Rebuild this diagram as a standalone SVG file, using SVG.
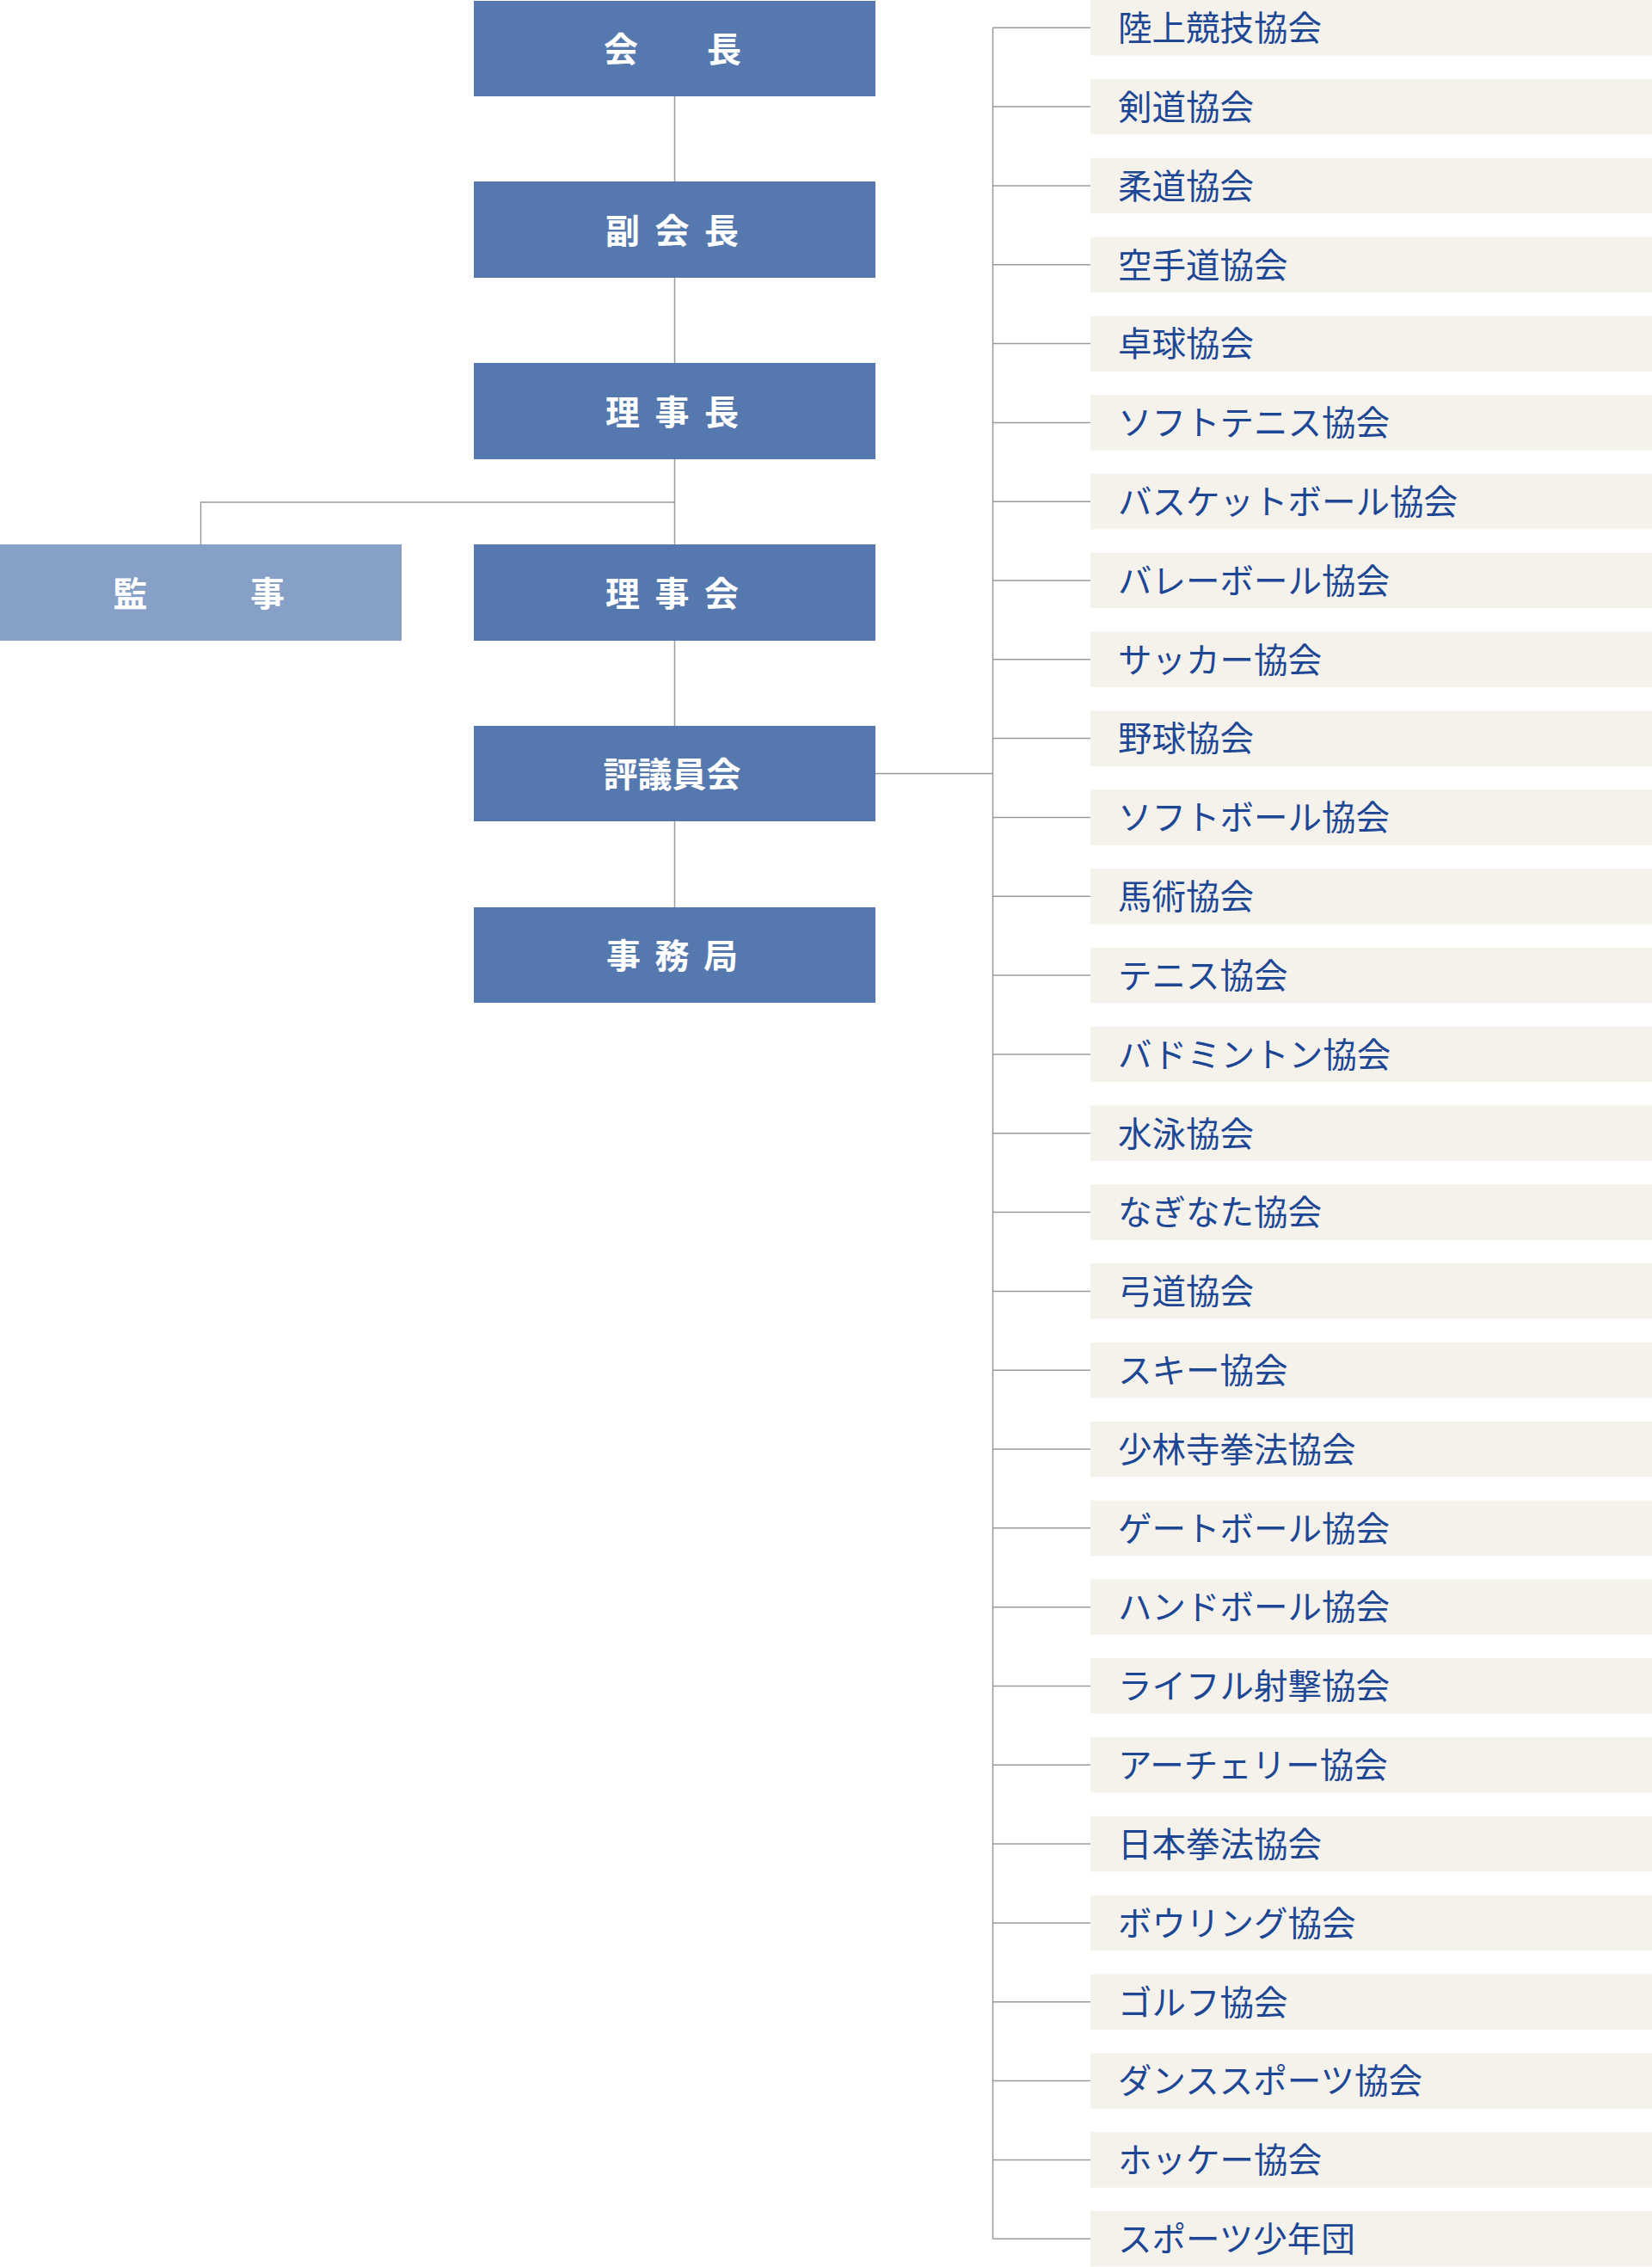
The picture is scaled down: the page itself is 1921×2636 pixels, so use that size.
<svg xmlns="http://www.w3.org/2000/svg" width="1921" height="2636" viewBox="0 0 1921 2636">
<style>
.bg{fill:#ffffff}
.main{fill:#5579ae}
.audit{fill:#86a0c7}
.mt{font-family:"Noto Sans CJK JP","Noto Sans CJK SC",sans-serif;font-size:40px;font-weight:700;fill:#ffffff;text-anchor:middle;dominant-baseline:central}
.assoc{fill:#f5f2ec}
.at{font-family:"Noto Sans CJK JP","Noto Sans CJK SC",sans-serif;font-size:39.5px;font-weight:400;fill:#1d4794;dominant-baseline:central}
.ln{stroke:#9a9a9a;stroke-width:1.5;fill:none}
</style>
<rect class="bg" x="0" y="0" width="1921" height="2636"/>
<g id="connectors">
<path class="ln" d="M784.5 112V1055"/>
<path class="ln" d="M233.5 633V584H784.5"/>
<path class="ln" d="M1018 899.5H1154.5"/>
<path class="ln" d="M1154.5 32.3V2603.2"/>
<path class="ln" d="M1154.5 32.3H1268M1154.5 124.1H1268M1154.5 215.9H1268M1154.5 307.7H1268M1154.5 399.5H1268M1154.5 491.4H1268M1154.5 583.2H1268M1154.5 675H1268M1154.5 766.8H1268M1154.5 858.6H1268M1154.5 950.5H1268M1154.5 1042.3H1268M1154.5 1134.1H1268M1154.5 1225.9H1268M1154.5 1317.7H1268M1154.5 1409.6H1268M1154.5 1501.4H1268M1154.5 1593.2H1268M1154.5 1685H1268M1154.5 1776.8H1268M1154.5 1868.7H1268M1154.5 1960.5H1268M1154.5 2052.3H1268M1154.5 2144.1H1268M1154.5 2235.9H1268M1154.5 2327.8H1268M1154.5 2419.6H1268M1154.5 2511.4H1268M1154.5 2603.2H1268"/>
</g>
<g id="kaicho"><rect class="main" x="551" y="1" width="467" height="111"/><text class="mt" x="722 842" y="55">会長</text></g>
<g id="fukukaicho"><rect class="main" x="551" y="211" width="467" height="112"/><text class="mt" x="724 781.5 839" y="266">副会長</text></g>
<g id="rijicho"><rect class="main" x="551" y="422" width="467" height="112"/><text class="mt" x="724 781.5 839" y="477">理事長</text></g>
<g id="kanji"><rect class="audit" x="0" y="633" width="467" height="112"/><text class="mt" x="151.5 311" y="688">監事</text></g>
<g id="rijikai"><rect class="main" x="551" y="633" width="467" height="112"/><text class="mt" x="724 781.5 839" y="688">理事会</text></g>
<g id="hyogiinkai"><rect class="main" x="551" y="844" width="467" height="111"/><text class="mt" x="781.5" y="898">評議員会</text></g>
<g id="jimukyoku"><rect class="main" x="551" y="1055" width="467" height="111"/><text class="mt" x="725 781.5 838" y="1109">事務局</text></g>
<g id="a01" transform="translate(1268,0)"><rect class="assoc" width="653" height="64.5"/><text class="at" x="32" y="29.5">陸上競技協会</text></g>
<g id="a02" transform="translate(1268,91.8)"><rect class="assoc" width="653" height="64.5"/><text class="at" x="32" y="29.5">剣道協会</text></g>
<g id="a03" transform="translate(1268,183.6)"><rect class="assoc" width="653" height="64.5"/><text class="at" x="32" y="29.5">柔道協会</text></g>
<g id="a04" transform="translate(1268,275.5)"><rect class="assoc" width="653" height="64.5"/><text class="at" x="32" y="29.5">空手道協会</text></g>
<g id="a05" transform="translate(1268,367.3)"><rect class="assoc" width="653" height="64.5"/><text class="at" x="32" y="29.5">卓球協会</text></g>
<g id="a06" transform="translate(1268,459.1)"><rect class="assoc" width="653" height="64.5"/><text class="at" x="32" y="29.5">ソフトテニス協会</text></g>
<g id="a07" transform="translate(1268,550.9)"><rect class="assoc" width="653" height="64.5"/><text class="at" x="32" y="29.5">バスケットボール協会</text></g>
<g id="a08" transform="translate(1268,642.7)"><rect class="assoc" width="653" height="64.5"/><text class="at" x="32" y="29.5">バレーボール協会</text></g>
<g id="a09" transform="translate(1268,734.6)"><rect class="assoc" width="653" height="64.5"/><text class="at" x="32" y="29.5">サッカー協会</text></g>
<g id="a10" transform="translate(1268,826.4)"><rect class="assoc" width="653" height="64.5"/><text class="at" x="32" y="29.5">野球協会</text></g>
<g id="a11" transform="translate(1268,918.2)"><rect class="assoc" width="653" height="64.5"/><text class="at" x="32" y="29.5">ソフトボール協会</text></g>
<g id="a12" transform="translate(1268,1010)"><rect class="assoc" width="653" height="64.5"/><text class="at" x="32" y="29.5">馬術協会</text></g>
<g id="a13" transform="translate(1268,1101.8)"><rect class="assoc" width="653" height="64.5"/><text class="at" x="32" y="29.5">テニス協会</text></g>
<g id="a14" transform="translate(1268,1193.7)"><rect class="assoc" width="653" height="64.5"/><text class="at" x="32" y="29.5">バドミントン協会</text></g>
<g id="a15" transform="translate(1268,1285.5)"><rect class="assoc" width="653" height="64.5"/><text class="at" x="32" y="29.5">水泳協会</text></g>
<g id="a16" transform="translate(1268,1377.3)"><rect class="assoc" width="653" height="64.5"/><text class="at" x="32" y="29.5">なぎなた協会</text></g>
<g id="a17" transform="translate(1268,1469.1)"><rect class="assoc" width="653" height="64.5"/><text class="at" x="32" y="29.5">弓道協会</text></g>
<g id="a18" transform="translate(1268,1560.9)"><rect class="assoc" width="653" height="64.5"/><text class="at" x="32" y="29.5">スキー協会</text></g>
<g id="a19" transform="translate(1268,1652.8)"><rect class="assoc" width="653" height="64.5"/><text class="at" x="32" y="29.5">少林寺拳法協会</text></g>
<g id="a20" transform="translate(1268,1744.6)"><rect class="assoc" width="653" height="64.5"/><text class="at" x="32" y="29.5">ゲートボール協会</text></g>
<g id="a21" transform="translate(1268,1836.4)"><rect class="assoc" width="653" height="64.5"/><text class="at" x="32" y="29.5">ハンドボール協会</text></g>
<g id="a22" transform="translate(1268,1928.2)"><rect class="assoc" width="653" height="64.5"/><text class="at" x="32" y="29.5">ライフル射撃協会</text></g>
<g id="a23" transform="translate(1268,2020)"><rect class="assoc" width="653" height="64.5"/><text class="at" x="32" y="29.5">アーチェリー協会</text></g>
<g id="a24" transform="translate(1268,2111.9)"><rect class="assoc" width="653" height="64.5"/><text class="at" x="32" y="29.5">日本拳法協会</text></g>
<g id="a25" transform="translate(1268,2203.7)"><rect class="assoc" width="653" height="64.5"/><text class="at" x="32" y="29.5">ボウリング協会</text></g>
<g id="a26" transform="translate(1268,2295.5)"><rect class="assoc" width="653" height="64.5"/><text class="at" x="32" y="29.5">ゴルフ協会</text></g>
<g id="a27" transform="translate(1268,2387.3)"><rect class="assoc" width="653" height="64.5"/><text class="at" x="32" y="29.5">ダンススポーツ協会</text></g>
<g id="a28" transform="translate(1268,2479.1)"><rect class="assoc" width="653" height="64.5"/><text class="at" x="32" y="29.5">ホッケー協会</text></g>
<g id="a29" transform="translate(1268,2571)"><rect class="assoc" width="653" height="64.5"/><text class="at" x="32" y="29.5">スポーツ少年団</text></g>
</svg>
